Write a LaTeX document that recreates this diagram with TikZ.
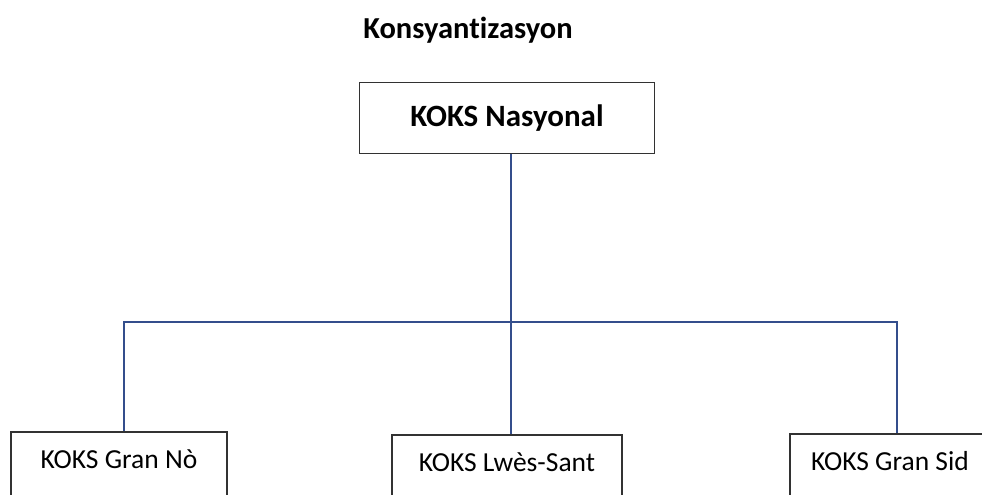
\documentclass[tikz,border=0pt]{standalone}
\usepackage{fontspec}
\setmainfont{Carlito}[Ligatures=NoCommon]
\definecolor{linkblue}{RGB}{52,78,140}
\definecolor{boxgray}{RGB}{50,50,50}

\begin{document}
\begin{tikzpicture}[x=1pt,y=-1pt,
    unit/.style={draw=boxgray, line width=1.5pt, fill=white, anchor=north, inner ysep=14pt, text height=23pt, text depth=40pt, font=\fontsize{27.5}{33}\selectfont},
    link/.style={draw=linkblue, line width=1.4pt}]
    \useasboundingbox (0,0) rectangle (982,495);
    \clip (0,0) rectangle (982,495);
    \node[anchor=base, font=\bfseries\fontsize{30.5}{36}\selectfont] (title) at (468,38) {Konsyantizasyon}; % title
    \node[draw=boxgray, line width=1.5pt, minimum width=295pt, minimum height=71pt, font=\bfseries\fontsize{31}{37}\selectfont] (nasyonal) at (507,118) {KOKS Nasyonal}; % top box
    \node[unit, minimum width=216pt] (grannord) at (119,431) {KOKS Gran Nò}; % left
    \node[unit, minimum width=230pt] (lwessant) at (507,434) {KOKS Lwès-Sant}; % middle
    \node[unit, minimum width=200pt] (gransid) at (890,433) {KOKS Gran Sid}; % right
    \coordinate (bus) at (511,322); % branch point
    \draw[link] (nasyonal.south -| bus) -- (bus); % down from top
    \draw[link] ([xshift=5pt]grannord.north) |- (bus) -| ([xshift=7pt]gransid.north); % horizontal bar
    \draw[link] (bus) -- (lwessant.north -| bus); % middle drop
\end{tikzpicture}
\end{document}
